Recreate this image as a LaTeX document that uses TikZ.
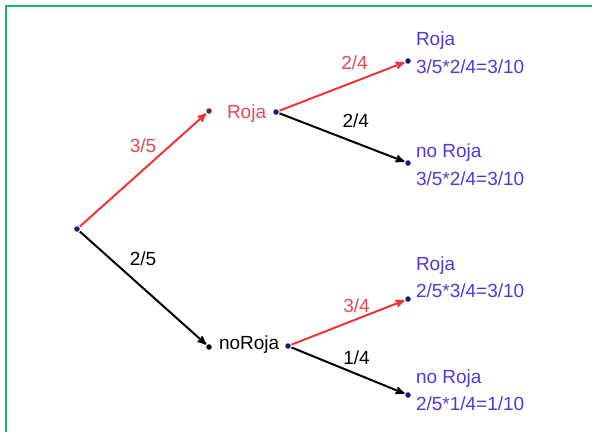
\documentclass[tikz,border=0pt]{standalone}
\usepackage{fontspec}
\setmainfont{Liberation Sans}
\usetikzlibrary{arrows,positioning}
\definecolor{rojo}{RGB}{238,52,52}
\definecolor{rojotxt}{RGB}{228,72,82}
\definecolor{azul}{RGB}{78,58,215}
\definecolor{marino}{RGB}{25,25,130}
\definecolor{pardo}{RGB}{110,40,40}
\definecolor{marco}{RGB}{30,182,92}

\begin{document}
\begin{tikzpicture}[->,>=stealth',x=1pt,y=-1pt,line width=2pt,font=\fontsize{19}{23}\selectfont]
		\tikzstyle{dot}=[circle,fill=marino,inner sep=0pt,minimum size=5.5pt]
		\tikzstyle{lbl}=[inner sep=0pt]
		\tikzstyle{txt}=[inner sep=0pt,anchor=base west]
		\tikzstyle{leaf}=[txt,text=azul]
		\useasboundingbox (0,0) rectangle (592,432);
		\draw[-,marco,line width=2pt] (5.5,432) -- (5.5,5.5) -- (592,5.5);
		% ramas
		\node[dot]              (O)  at (77,229)  {};
		\node[dot,fill=pardo]   (A)  at (209,111) {};
		\node[dot]              (B)  at (276,112) {};
		\node[dot,fill=black]   (C)  at (209,347) {};
		\node[dot]              (D)  at (288,346) {};
		\node[txt,text=rojotxt] (R)  at (226,118) {Roja};
		\node[txt]              (NR) at (218,349) {noRoja};
		% hojas
		\node[dot] (L1) at (408,61)  {};
		\node[dot] (L2) at (408,163) {};
		\node[dot] (L3) at (408,299) {};
		\node[dot] (L4) at (408,395) {};
		\node[leaf] (n1) at (415,45)  {Roja};
		\node[leaf] (v1) at (415,73)  {3/5*2/4=3/10};
		\node[leaf] (n2) at (415,157) {no Roja};
		\node[leaf] (v2) at (415,185) {3/5*2/4=3/10};
		\node[leaf] (n3) at (415,270) {Roja};
		\node[leaf] (v3) at (415,297) {2/5*3/4=3/10};
		\node[leaf] (n4) at (415,383) {no Roja};
		\node[leaf] (v4) at (415,410) {2/5*1/4=1/10};
		\path
		(O) edge[rojo] node[lbl,text=rojotxt,midway,above=16pt] {3/5} (A)
		(O) edge node[lbl,midway,above=21pt] {2/5} (C)
		(B) edge[rojo] node[lbl,text=rojotxt,pos=0.6,above=11pt] {2/4} (L1)
		(B) edge node[lbl,pos=0.61,above=14pt] {2/4} (L2)
		(D) edge[rojo] node[lbl,text=rojotxt,pos=0.575,above=6pt] {3/4} (L3)
		(D) edge node[lbl,pos=0.575,above=8pt] {1/4} (L4);
	\end{tikzpicture}
\end{document}
